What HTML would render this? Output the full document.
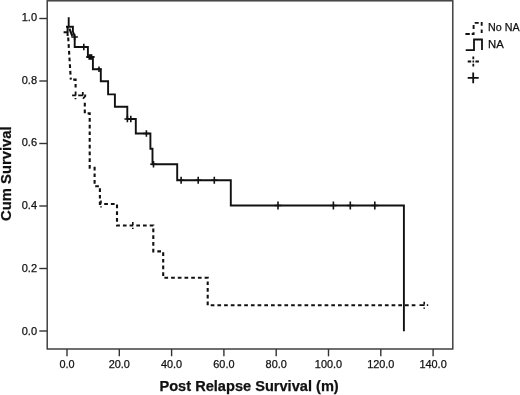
<!DOCTYPE html>
<html>
<head>
<meta charset="utf-8">
<title>Post Relapse Survival</title>
<style>
html,body{margin:0;padding:0;background:#fff;}
body{width:520px;height:395px;overflow:hidden;}
svg{display:block;}
text{font-family:"Liberation Sans",Arial,sans-serif;fill:#111;stroke:#111;stroke-width:0.25px;}
.tk{font-size:11px;}
.ttl{font-size:14.6px;font-weight:bold;}
.lg{font-size:10.4px;}
</style>
</head>
<body>
<svg width="520" height="395" viewBox="0 0 520 395">
<rect x="0" y="0" width="520" height="395" fill="#fff"/>
<rect x="47.2" y="0.8" width="405.6" height="348.2" fill="none" stroke="#333" stroke-width="1.4"/>
<g stroke="#333" stroke-width="1.4">
<line x1="39.3" y1="18.5" x2="47" y2="18.5"/>
<line x1="39.3" y1="81" x2="47" y2="81"/>
<line x1="39.3" y1="143.5" x2="47" y2="143.5"/>
<line x1="39.3" y1="206" x2="47" y2="206"/>
<line x1="39.3" y1="268.5" x2="47" y2="268.5"/>
<line x1="39.3" y1="331" x2="47" y2="331"/>
<line x1="67.0" y1="349" x2="67.0" y2="356.3"/>
<line x1="119.3" y1="349" x2="119.3" y2="356.3"/>
<line x1="171.6" y1="349" x2="171.6" y2="356.3"/>
<line x1="223.9" y1="349" x2="223.9" y2="356.3"/>
<line x1="276.2" y1="349" x2="276.2" y2="356.3"/>
<line x1="328.5" y1="349" x2="328.5" y2="356.3"/>
<line x1="380.8" y1="349" x2="380.8" y2="356.3"/>
<line x1="433.1" y1="349" x2="433.1" y2="356.3"/>
</g>
<g class="tk" text-anchor="end">
<text x="37" y="20.70">1.0</text>
<text x="37" y="83.55">0.8</text>
<text x="37" y="146.40">0.6</text>
<text x="37" y="209.25">0.4</text>
<text x="37" y="272.00">0.2</text>
<text x="37" y="334.70">0.0</text>
</g>
<g class="tk" text-anchor="middle" style="font-size:10.9px">
<text x="67.0" y="368.4">0.0</text>
<text x="119.3" y="368.4">20.0</text>
<text x="171.6" y="368.4">40.0</text>
<text x="223.9" y="368.4">60.0</text>
<text x="276.2" y="368.4">80.0</text>
<text x="328.5" y="368.4">100.0</text>
<text x="380.8" y="368.4">120.0</text>
<text x="433.1" y="368.4">140.0</text>
</g>
<text class="ttl" x="249.1" y="390.9" text-anchor="middle">Post Relapse Survival (m)</text>
<text class="ttl" transform="translate(11.3,173.6) rotate(-90)" text-anchor="middle" style="font-size:14.8px">Cum Survival</text>
<path d="M68.2,37.5 L70.8,79.6" fill="none" stroke="#111" stroke-width="2.1" stroke-dasharray="3.7 3"/>
<path d="M84.8,102.8 V113.4 H89.7 V167.7 H94.6 V186.2 H99.9 V204 H117 V225.5 H153.3 V251.4 H163.2 V277.8 H207.7 V305.2 H418" fill="none" stroke="#111" stroke-width="2.1" stroke-dasharray="3.7 3"/>
<path d="M73.2,79.6 H75.6 V89" fill="none" stroke="#111" stroke-width="2.1" stroke-dasharray="3.7 3"/>
<path d="M72.1,95.4 H75.8 M75.6,91.6 V95.4 M75.5,97.9 V99.2 M78.2,95.4 H82.9 M82.8,92 V95.4 M84.2,95.4 H86.2 M85.6,95.6 L83,98.8" fill="none" stroke="#111" stroke-width="1.8"/>
<path d="M419.5,305.2 H424.6 M426.8,305.2 H428.2" fill="none" stroke="#111" stroke-width="1.8"/>
<path d="M67.6,26.5 V36 M63.6,32.2 H67 M66,26.8 H69" fill="none" stroke="#111" stroke-width="2"/>
<path d="M69.4,28.6 L72.3,36" fill="none" stroke="#111" stroke-width="2.1"/>
<g stroke="#111" stroke-width="1.6" fill="none">
<path d="M101,200.6 V203.4 M101,206.2 V207.6"/>
<path d="M132.8,222.1 V224.9 M132.8,227.7 V229.1"/>
<path d="M424.2,301.8 V304.6 M424.2,307.4 V308.8"/>
</g>
<path d="M68.7,17.2 V26.7 H72.9 V31.5 L74.7,36.5 V47 H87.9 V57 H92.9 V69.3 H100.8 V81.2 H108.1 V94.4 H114.9 V106.8 H127.3 V119 H135.8 V133.5 H150.4 V148.8 H152.5 V164.2 H177.2 V180.3 H230.8 V205.5 H403.9 V331.2" fill="none" stroke="#111" stroke-width="1.9"/>
<g stroke="#111" stroke-width="1.6" fill="none">
<path d="M71.3,37 H77.9 M74.6,33.7 V40.3"/>
<path d="M80.5,47 H87.1 M83.8,43.7 V50.3"/>
<path d="M86.0,57 H92.4 M89.2,54.2 V59.8"/>
<path d="M87.2,57 H93.6 M90.4,54.2 V59.8"/>
<path d="M88.4,57 H94.8 M91.6,54.2 V59.8"/>
<path d="M96.5,69.3 H101.5 M99,66.5 V72.1"/>
<path d="M124.4,119 H130.4 M127.4,115.7 V122.3"/>
<path d="M127.5,119 H134.1 M130.8,115.7 V122.3"/>
<path d="M143.1,133.5 H149.7 M146.4,130.2 V136.8"/>
<path d="M150.2,164.2 H156.8 M153.5,161.0 V167.4"/>
<path d="M177.8,180.3 H184.4 M181.1,176.8 V183.8"/>
<path d="M194.9,180.3 H201.5 M198.2,176.8 V183.8"/>
<path d="M211.0,180.3 H217.6 M214.3,176.8 V183.8"/>
<path d="M274.7,205.5 H281.3 M278,201.6 V209.4"/>
<path d="M330.1,205.5 H336.7 M333.4,201.6 V209.4"/>
<path d="M347.0,205.5 H353.6 M350.3,201.6 V209.4"/>
<path d="M371.5,205.5 H378.1 M374.8,201.6 V209.4"/>
</g>
<path d="M465.4,34 H469.8 M471.7,34 H473.6 V32.2 M473.6,25.1 V28.9 M474.7,22.9 H478.7 M481.7,22 V25.8 M481.7,29.4 V33" fill="none" stroke="#111" stroke-width="1.9"/>
<path d="M465.7,50.2 H474 V39.5 H482 V50" fill="none" stroke="#111" stroke-width="1.8"/>
<text class="lg" x="488" y="30.8" textLength="31.6" lengthAdjust="spacingAndGlyphs">No NA</text>
<text class="lg" x="488" y="47.8" textLength="15.7" lengthAdjust="spacingAndGlyphs">NA</text>
<g stroke="#111" stroke-width="1.8" fill="none">
<path d="M467.7,61.5 H471.2 M475.4,61.5 H478.9 M473.3,56.6 V59.2 M473.3,63.8 V66.4 M472.5,61.5 H474.1"/>
<path d="M467.7,77.9 H478.7 M473.2,72.5 V83.3"/>
</g>
</svg>
</body>
</html>
